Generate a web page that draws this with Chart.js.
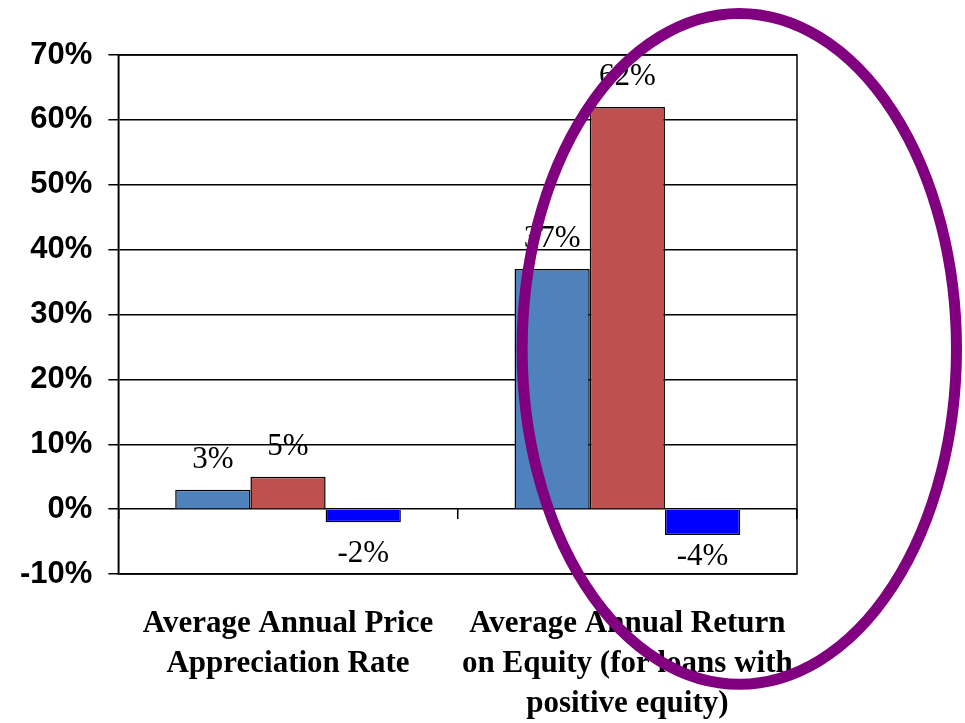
<!DOCTYPE html>
<html>
<head>
<meta charset="utf-8">
<script src="https://cdn.jsdelivr.net/npm/chart.js@4.4.1/dist/chart.umd.min.js"></script>
<style>
  html, body { margin: 0; padding: 0; background: #fff; }
  #wrap { width: 965px; height: 723px; }
</style>
</head>
<body>
<div id="wrap"><canvas id="chart1" width="965" height="723"></canvas></div>
<script>
// categories (multi-line labels)
var categories = [
    ["Average Annual Price", "Appreciation Rate"],
    ["Average Annual Return", "on Equity (for loans with", "positive equity)"]
];

// three series, values in percent
var seriesA = [3, 37];
var seriesB = [5, 62];
var seriesC = [-2, -4];

var yTicks = [-10, 0, 10, 20, 30, 40, 50, 60, 70];

// highlight ring around the second group (in axis units)
var ringCenter = [1.33, 24.7];
var ringRadius = [0.64, 51.7];

var serif = "'Liberation Serif', 'Times New Roman', serif";
var sans = "'Liberation Sans', Arial, sans-serif";

// value labels over / under each bar, kept inside the plot area
var barLabels = {
    id: 'barLabels',
    afterDatasetsDraw: function(chart) {
        var ctx = chart.ctx, area = chart.chartArea;
        ctx.save();
        ctx.font = "31px " + serif;
        ctx.fillStyle = "#000";
        ctx.textAlign = "center";
        ctx.textBaseline = "middle";
        chart.data.datasets.forEach(function(ds, i) {
            chart.getDatasetMeta(i).data.forEach(function(bar, j) {
                var v = ds.data[j];
                var y = v >= 0 ? bar.y - 30 : Math.min(bar.y + 32, area.bottom - 17);
                ctx.fillText(v + "%", bar.x, y);
            });
        });
        ctx.restore();
    }
};

// frame around the plot area
var plotFrame = {
    id: 'plotFrame',
    beforeDatasetsDraw: function(chart) {
        var a = chart.chartArea, ctx = chart.ctx;
        ctx.save();
        ctx.strokeStyle = "#000";
        ctx.lineWidth = 1.5;
        ctx.strokeRect(a.left, a.top, a.right - a.left, a.bottom - a.top);
        ctx.restore();
    }
};

// purple ring drawn on top of everything
var ring = {
    id: 'ring',
    afterDraw: function(chart) {
        var x = chart.scales.x, y = chart.scales.y, ctx = chart.ctx;
        var cx = x.getPixelForValue(ringCenter[0]);
        var cy = y.getPixelForValue(ringCenter[1]);
        var rx = x.getPixelForValue(1 + ringRadius[0]) - x.getPixelForValue(1);
        var ry = y.getPixelForValue(0) - y.getPixelForValue(ringRadius[1]);
        ctx.save();
        ctx.strokeStyle = "#800080";
        ctx.lineWidth = 11;
        ctx.beginPath();
        ctx.ellipse(cx, cy, rx, ry, 0, 0, Math.PI * 2);
        ctx.stroke();
        ctx.restore();
    }
};

var ctx = document.getElementById('chart1').getContext('2d');
new Chart(ctx, {
    type: 'bar',
    data: {
        labels: categories,
        datasets: [
            { data: seriesA, backgroundColor: "#4F81BD", borderColor: "#000", borderWidth: 1.5 },
            { data: seriesB, backgroundColor: "#C0504D", borderColor: "#000", borderWidth: 1.5 },
            { data: seriesC, backgroundColor: "#0000FF", borderColor: "#000", borderWidth: 1.5 }
        ]
    },
    options: {
        responsive: false,
        devicePixelRatio: 1,
        animation: false,
        categoryPercentage: 0.665,
        barPercentage: 1,
        layout: { padding: { left: 4, right: 168, top: 55, bottom: -31 } },
        plugins: {
            legend: { display: false },
            tooltip: { enabled: false }
        },
        scales: {
            x: {
                grid: { display: false, drawTicks: false },
                border: { display: false },
                ticks: {
                    color: "#000",
                    padding: 30,
                    maxRotation: 0,
                    autoSkip: false,
                    font: { family: serif, size: 31, weight: 'bold', lineHeight: 1.29 }
                }
            },
            // short tick marks along the zero line between groups
            x2: {
                position: { y: 0 },
                offset: true,
                grid: { offset: true, drawOnChartArea: false, drawTicks: true, tickLength: 10, color: "#000", lineWidth: 1.5 },
                border: { display: false },
                ticks: { display: false }
            },
            y: {
                min: yTicks[0],
                max: yTicks[yTicks.length - 1],
                afterBuildTicks: function(axis) {
                    axis.ticks = yTicks.map(function(v) { return { value: v }; });
                },
                grid: { color: "#000", lineWidth: 1.5, tickLength: 10 },
                border: { color: "#000", width: 1.5 },
                ticks: {
                    color: "#000",
                    padding: 16,
                    font: { family: sans, size: 31, weight: 'bold' },
                    callback: function(v) { return v + "%"; }
                }
            }
        }
    },
    plugins: [plotFrame, barLabels, ring]
});
</script>
</body>
</html>
